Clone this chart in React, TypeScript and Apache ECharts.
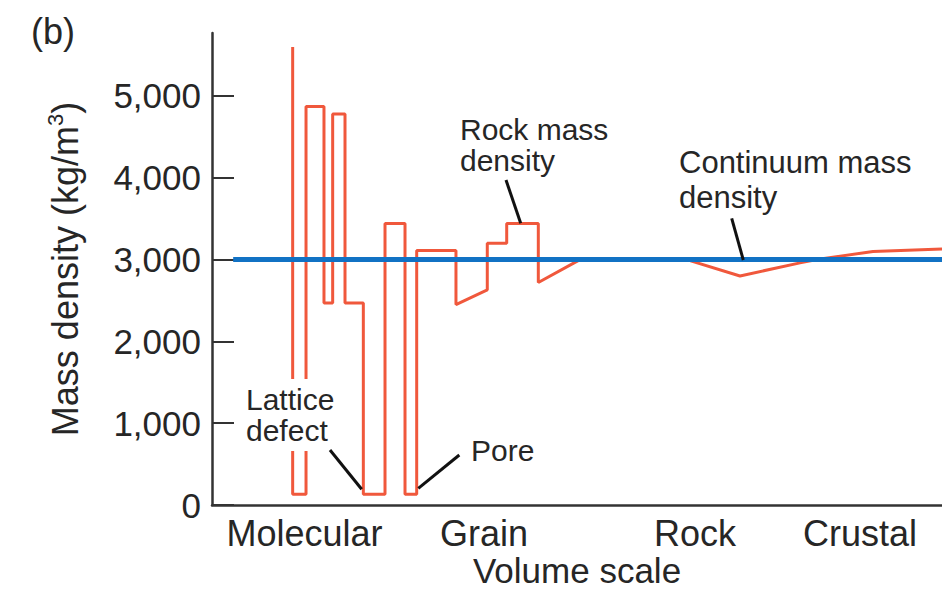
import React, { useEffect, useRef } from "react";
import * as echarts from "echarts";

// Volume-scale position (0..100, arbitrary units along the axis) and mass density (kg/m3)
const rockX = [11.05, 11.05, 12.88, 12.88, 15.34, 15.34, 16.53, 16.53, 18.22, 18.22, 20.73, 20.73, 23.7, 23.7, 26.44, 26.44, 28.04, 28.04, 33.42, 33.42, 37.71, 37.71, 40.37, 40.37, 44.7, 44.7, 50.41, 65.03, 72.33, 80.55, 82.88, 90.55, 100];
const rockY = [5600, 130, 130, 4870, 4870, 2470, 2470, 4780, 4780, 2470, 2470, 130, 130, 3440, 3440, 130, 130, 3110, 3110, 2450, 2630, 3200, 3200, 3440, 3440, 2720, 3000, 3000, 2800, 2960, 3000, 3100, 3130];

const continuumX = [2.9, 100];
const continuumY = [3000, 3000];

const scaleNames = ["Molecular", "Grain", "Rock", "Crustal"];
const scalePositions = [12.67, 37.26, 66.16, 88.77];

const densityTicks = [0, 1000, 2000, 3000, 4000, 5000];

const FONT = "'Liberation Sans', Arial, Helvetica, sans-serif";
const TXT = "#262626";

export default function App() {
  const ref = useRef<HTMLDivElement>(null);
  useEffect(() => {
    if (!ref.current) return;
    const chart = echarts.init(ref.current, null, { renderer: "svg" });
    const rockData = rockX.map((x, i) => [x, rockY[i]]);
    const contData = continuumX.map((x, i) => [x, continuumY[i]]);
    const annotation = (text: string, x: number, y: number, size: number, lh: number, extra: any = {}) => ({
      type: "text",
      x,
      y,
      z: 100,
      style: {
        text,
        font: `${size}px ${FONT}`,
        fill: TXT,
        textAlign: "left",
        textVerticalAlign: "middle",
        lineHeight: lh,
        ...extra,
      },
    });
    const leader = (x1: number, y1: number, x2: number, y2: number) => ({
      type: "line",
      z: 100,
      shape: { x1, y1, x2, y2 },
      style: { stroke: "#111", lineWidth: 3 },
    });
    chart.setOption({
      animation: false,
      backgroundColor: "#fff",
      grid: { left: 212, right: 0, top: 33, bottom: 84, outerBoundsMode: "none" },
      xAxis: {
        type: "value",
        min: 0,
        max: 100,
        splitLine: { show: false },
        axisLine: { show: true, lineStyle: { color: "#333", width: 2.5 } },
        axisTick: { show: false },
        axisLabel: {
          customValues: scalePositions,
          margin: 10,
          color: TXT,
          fontSize: 36,
          fontFamily: FONT,
          formatter: (v: number) => {
            const i = scalePositions.findIndex((p) => Math.abs(p - v) < 0.01);
            return i >= 0 ? scaleNames[i] : "";
          },
        },
        name: "Volume scale",
        nameLocation: "middle",
        nameGap: 48,
        nameMoveOverlap: false,
        nameTextStyle: { color: TXT, fontSize: 35, lineHeight: 34, fontFamily: FONT },
      },
      yAxis: {
        type: "value",
        min: 0,
        max: 5770,
        splitLine: { show: false },
        axisLine: { show: true, lineStyle: { color: "#333", width: 2.5 } },
        axisTick: {
          show: true,
          inside: true,
          length: 22,
          customValues: densityTicks,
          lineStyle: { color: "#333", width: 2 },
        },
        axisLabel: {
          customValues: densityTicks,
          margin: 11,
          color: TXT,
          fontSize: 35,
          fontFamily: FONT,
          formatter: (v: number) => v.toLocaleString("en-US"),
        },
        name: "{a|Mass density (kg/m}{s|3}{a|)}",
        nameLocation: "middle",
        nameGap: 126,
        nameMoveOverlap: false,
        nameTextStyle: {
          color: TXT,
          fontSize: 36,
          fontFamily: FONT,
          rich: {
            a: { fontSize: 36, fontFamily: FONT, color: TXT, lineHeight: 42 },
            s: { fontSize: 22, fontFamily: FONT, color: TXT, lineHeight: 22, verticalAlign: "top" },
          },
        },
      },
      series: [
        {
          type: "line",
          name: "Rock mass density",
          data: rockData,
          showSymbol: false,
          symbol: "none",
          lineStyle: { color: "#f0583c", width: 3 },
          z: 2,
        },
        {
          type: "line",
          name: "Continuum mass density",
          data: contData,
          showSymbol: false,
          symbol: "none",
          lineStyle: { color: "#1172c4", width: 5 },
          z: 3,
        },
      ],
      graphic: [
        {
          type: "text",
          left: 31,
          top: 13,
          z: 100,
          style: { text: "(b)", font: `36px ${FONT}`, fill: TXT },
        },
        annotation("Rock mass\ndensity", 460, 145, 30, 31),
        annotation("Continuum mass\ndensity", 679, 180, 31, 35),
        annotation("Lattice\ndefect", 244, 415, 30, 31, { backgroundColor: "#fff", padding: [5, 2, 5, 2] }),
        annotation("Pore", 471, 450, 30, 31),
        leader(506, 180, 520.7, 223.3),
        leader(731.7, 218.3, 743.3, 260),
        leader(330, 450, 361.7, 489.3),
        leader(418.3, 488.3, 459.3, 455),
      ],
    });
    return () => chart.dispose();
  }, []);
  return (
    <div
      ref={ref}
      style={{ position: "absolute", left: 0, top: 0, width: 942, height: 589 }}
    />
  );
}
